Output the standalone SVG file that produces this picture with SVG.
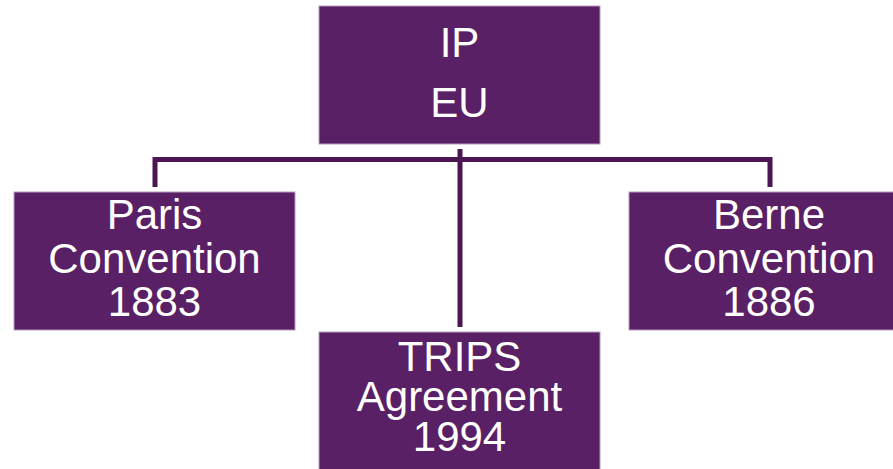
<svg xmlns="http://www.w3.org/2000/svg" width="893" height="469" viewBox="0 0 893 469">
<style>
.box{fill:#5a2066;stroke:#b79bbd;stroke-width:1}
.lbl{fill:#ffffff;font-family:"Liberation Sans",Arial,sans-serif;font-size:42px;text-anchor:middle}
.conn{fill:none;stroke:#4b1652;stroke-width:5}
</style>
<rect width="893" height="469" fill="#ffffff"/>
<g id="connectors">
<polyline class="conn" points="155,187 155,159.5 770,159.5 770,187"/>
<line class="conn" x1="460" y1="149" x2="460" y2="327"/>
</g>
<g id="node-ip">
<rect class="box" x="319" y="6" width="281" height="138"/>
<text class="lbl" x="459.5" y="57">IP</text>
<text class="lbl" x="459.5" y="117">EU</text>
</g>
<g id="node-paris">
<rect class="box" x="14" y="192" width="281" height="138"/>
<text class="lbl" x="154.5" y="229">Paris</text>
<text class="lbl" x="154.5" y="273">Convention</text>
<text class="lbl" x="154.5" y="316">1883</text>
</g>
<g id="node-berne">
<rect class="box" x="629" y="192" width="281" height="138"/>
<text class="lbl" x="769" y="229">Berne</text>
<text class="lbl" x="769" y="273">Convention</text>
<text class="lbl" x="769" y="316">1886</text>
</g>
<g id="node-trips">
<rect class="box" x="319" y="332" width="281" height="150"/>
<text class="lbl" x="459.5" y="371">TRIPS</text>
<text class="lbl" x="459.5" y="411">Agreement</text>
<text class="lbl" x="459.5" y="451">1994</text>
</g>
</svg>
